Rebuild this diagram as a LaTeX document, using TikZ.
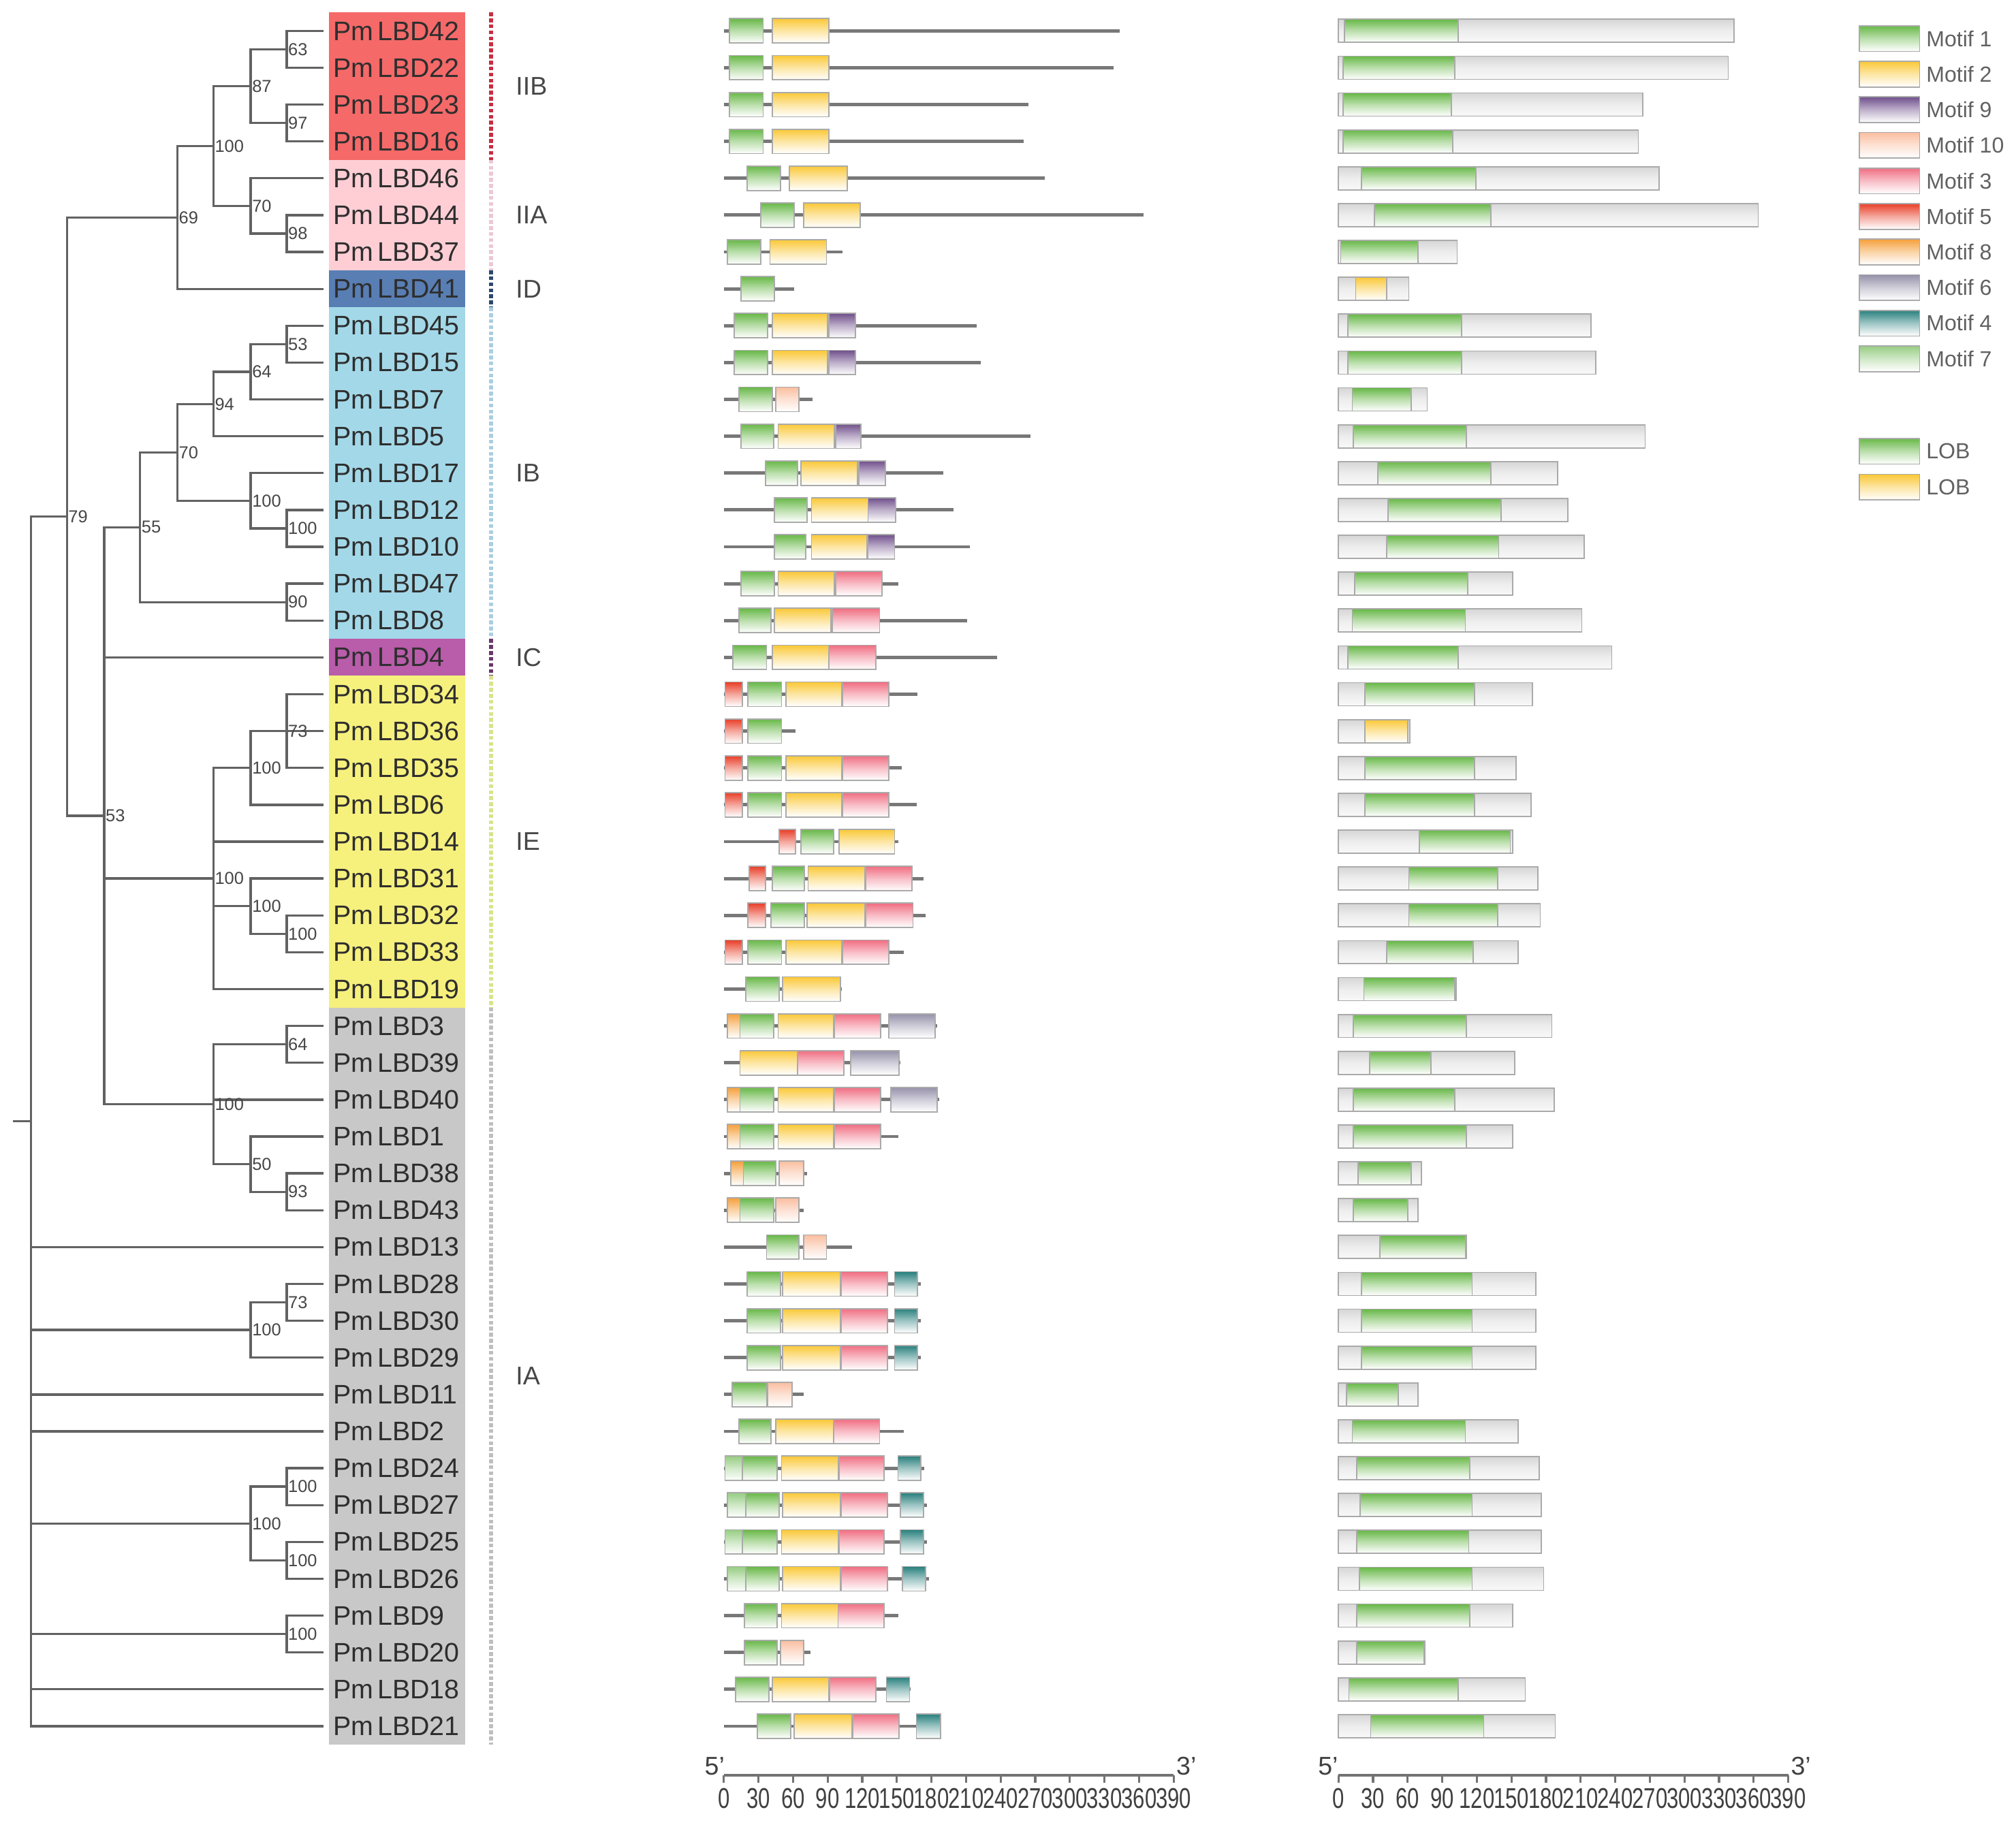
\documentclass[tikz,border=0pt]{standalone}
\usepackage{fontspec}
\setmainfont{Liberation Sans}
\newfontfamily\axisfont[FakeStretch=0.74]{Liberation Sans}

% tree and group colours
\definecolor{treegray}{RGB}{98,98,98}
\definecolor{bootgray}{RGB}{70,70,70}
\definecolor{bgIIB}{RGB}{245,105,105}
\definecolor{bgIIA}{RGB}{255,206,213}
\definecolor{bgID}{RGB}{88,126,180}
\definecolor{bgIB}{RGB}{163,216,232}
\definecolor{bgIC}{RGB}{185,92,170}
\definecolor{bgIE}{RGB}{246,240,125}
\definecolor{bgIA}{RGB}{200,200,200}
\definecolor{dlIIB}{RGB}{200,45,65}
\definecolor{dlIIA}{RGB}{236,200,210}
\definecolor{dlID}{RGB}{45,72,110}
\definecolor{dlIB}{RGB}{170,205,225}
\definecolor{dlIC}{RGB}{105,55,105}
\definecolor{dlIE}{RGB}{215,228,140}
\definecolor{dlIA}{RGB}{190,190,190}
% motif colours
\definecolor{cG}{RGB}{104,184,72}
\definecolor{cY}{RGB}{250,200,55}
\definecolor{cP}{RGB}{112,80,140}
\definecolor{cE}{RGB}{250,190,160}
\definecolor{cK}{RGB}{240,110,130}
\definecolor{cR}{RGB}{232,62,40}
\definecolor{cO}{RGB}{245,160,60}
\definecolor{cV}{RGB}{150,145,170}
\definecolor{cT}{RGB}{40,128,125}
\definecolor{cL}{RGB}{150,205,130}
\definecolor{protgray}{RGB}{120,120,120}
\definecolor{boxgray}{RGB}{170,170,170}

\newcommand{\rowy}[1]{24+28.67*(#1)}

\tikzset{
  branch/.style={draw=treegray, line width=1.5pt, line cap=rect},
  boot/.style={anchor=west, inner sep=0.8pt, text=bootgray, font=\fontsize{11.5}{13}\selectfont},
  tiplabel/.style={anchor=west, inner sep=0pt, text=black!82, font=\fontsize{17.8}{21}\selectfont},
  grplabel/.style={anchor=west, inner sep=0pt, text=black!72, font=\fontsize{17}{19}\selectfont},
  grpdash/.style={line width=2.6pt, dash pattern=on 2.5pt off 1.5pt},
  protline/.style={draw=protgray, line width=2.2pt},
  motif/.style={draw=boxgray, line width=0.8pt, top color=#1, bottom color=white, middle color=#1!45},
  domainbar/.style={draw=boxgray, line width=0.8pt, top color=gray!32, bottom color=gray!5, middle color=gray!14},
  legtext/.style={anchor=west, inner sep=0pt, text=black!62, font=\fontsize{14.5}{17}\selectfont},
  axisline/.style={draw=black!55, line width=1.4pt},
  axistext/.style={inner sep=0pt, text=black!75, font=\axisfont\fontsize{19}{21}\selectfont},
  endtext/.style={inner sep=0pt, text=black!75, font=\fontsize{17}{19}\selectfont}
}

\begin{document}
\begin{tikzpicture}[x=0.03cm, y=-0.03cm]
\useasboundingbox (0,0) rectangle (1568,1421);

% group bands, dashed marks and group names
\foreach \g/\ra/\rb in {IIB/0/3,IIA/4/6,ID/7/7,IB/8/16,IC/17/17,IE/18/26,IA/27/46}{
  \fill[fill=bg\g] (256,{\rowy{\ra}-14.335}) rectangle (362,{\rowy{\rb}+14.335});
  \draw[grpdash, draw=dl\g] (382,{\rowy{\ra}-14.335}) -- (382,{\rowy{\rb}+14.335});
  \node[grplabel] (g\g) at (401,{\rowy{(\ra+\rb)/2}}) {\g};
}

% leaves
\foreach \n [count=\i from 0] in {42,22,23,16,46,44,37,41,45,15,7,5,17,12,10,47,8,4,34,36,35,6,14,31,32,33,19,3,39,40,1,38,43,13,28,30,29,11,2,24,27,25,26,9,20,18,21}{
  \coordinate (e\n) at (251,{\rowy{\i}});
  \node[tiplabel] (t\n) at (259,{\rowy{\i}}) {Pm\hspace{0.15em}LBD\n};
}

% inner nodes
\coordinate (n63) at (223,{\rowy{0.5}});
\coordinate (n97) at (223,{\rowy{2.5}});
\coordinate (n87) at (195,{\rowy{1.5}});
\coordinate (n98) at (223,{\rowy{5.5}});
\coordinate (n70a) at (195,{\rowy{4.75}});
\coordinate (n100a) at (166,{\rowy{3.125}});
\coordinate (n69) at (138,{\rowy{5.0625}});
\coordinate (n53a) at (223,{\rowy{8.5}});
\coordinate (n64a) at (195,{\rowy{9.25}});
\coordinate (n94) at (166,{\rowy{10.125}});
\coordinate (n100b) at (223,{\rowy{13.5}});
\coordinate (n100c) at (195,{\rowy{12.75}});
\coordinate (n70b) at (138,{\rowy{11.4375}});
\coordinate (n90) at (223,{\rowy{15.5}});
\coordinate (n55) at (109,{\rowy{13.46875}});
\coordinate (n73a) at (223,{\rowy{19}});
\coordinate (n100d) at (195,{\rowy{20}});
\coordinate (n100e) at (223,{\rowy{24.5}});
\coordinate (n100f) at (195,{\rowy{23.75}});
\coordinate (n100g) at (166,{\rowy{23}});
\coordinate (n64b) at (223,{\rowy{27.5}});
\coordinate (n93) at (223,{\rowy{31.5}});
\coordinate (n50) at (195,{\rowy{30.75}});
\coordinate (n100h) at (166,{\rowy{29.125}});
\coordinate (n53b) at (81,{\rowy{21.296875}});
\coordinate (n79) at (52,{\rowy{13.1796875}});
\coordinate (n73b) at (223,{\rowy{34.5}});
\coordinate (n100i) at (195,{\rowy{35.25}});
\coordinate (n100j) at (223,{\rowy{39.5}});
\coordinate (n100k) at (223,{\rowy{41.5}});
\coordinate (n100l) at (195,{\rowy{40.5}});
\coordinate (n100m) at (223,{\rowy{43.5}});
\coordinate (root) at (24,{\rowy{29.58984375}});
\coordinate (rootin) at (11,{\rowy{29.58984375}});

% branches
\foreach \p/\q in {n63/e42,n63/e22,n97/e23,n97/e16,n87/n63,n87/n97,n98/e44,n98/e37,n70a/e46,n70a/n98,
    n100a/n87,n100a/n70a,n69/n100a,n69/e41,n53a/e45,n53a/e15,n64a/n53a,n64a/e7,n94/n64a,n94/e5,
    n100b/e12,n100b/e10,n100c/e17,n100c/n100b,n70b/n94,n70b/n100c,n90/e47,n90/e8,n55/n70b,n55/n90,
    n73a/e34,n73a/e36,n73a/e35,n100d/n73a,n100d/e6,n100e/e32,n100e/e33,n100f/e31,n100f/n100e,
    n100g/n100d,n100g/e14,n100g/n100f,n100g/e19,n64b/e3,n64b/e39,n93/e38,n93/e43,n50/e1,n50/n93,
    n100h/n64b,n100h/e40,n100h/n50,n53b/n55,n53b/e4,n53b/n100g,n53b/n100h,n79/n69,n79/n53b,
    n73b/e28,n73b/e30,n100i/n73b,n100i/e29,n100j/e24,n100j/e27,n100k/e25,n100k/e26,
    n100l/n100j,n100l/n100k,n100m/e9,n100m/e20,
    root/n79,root/e13,root/n100i,root/e11,root/e2,root/n100l,root/n100m,root/e18,root/e21}
  \draw[branch] (\p) |- (\q);
\draw[branch] (rootin) -- (root);

% bootstrap values
\foreach \p/\v in {n63/63,n97/97,n87/87,n98/98,n70a/70,n100a/100,n69/69,n53a/53,n64a/64,n94/94,
    n100b/100,n100c/100,n70b/70,n90/90,n55/55,n73a/73,n100d/100,n100e/100,n100f/100,n100g/100,
    n64b/64,n93/93,n50/50,n100h/100,n53b/53,n79/79,n73b/73,n100i/100,n100j/100,n100k/100,
    n100l/100,n100m/100}
  \node[boot] (b\p) at (\p) {\v};

% motifs (middle) and LOB domain (right)
\foreach \rw/\len/\mots/\dc/\da/\db in {
  0/343/{G/5/34,Y/42/91}/G/5/104,
  1/338/{G/5/34,Y/42/91}/G/4/101,
  2/264/{G/5/34,Y/42/91}/G/4/98,
  3/260/{G/5/34,Y/42/91}/G/4/99,
  4/278/{G/20/49,Y/57/107}/G/20/119,
  5/364/{G/32/61,Y/69/118}/G/31/132,
  6/103/{G/3/32,Y/40/89}/G/2/69,
  7/61/{G/15/44}/Y/15/42,
  8/219/{G/9/38,Y/42/90,P/91/114}/G/8/107,
  9/223/{G/9/38,Y/42/90,P/91/114}/G/8/107,
  10/77/{G/13/42,E/45/65}/G/12/63,
  11/266/{G/15/43,Y/47/96,P/97/119}/G/13/111,
  12/190/{G/36/64,Y/67/116,P/117/140}/G/34/132,
  13/199/{G/44/72,Y/76/125,P/125/149}/G/43/141,
  14/213/{G/44/71,Y/76/124,P/125/148}/G/42/139,
  15/151/{G/15/44,Y/47/96,K/97/137}/G/14/112,
  16/211/{G/13/41,Y/44/93,K/94/135}/G/12/110,
  17/237/{G/8/37,Y/42/91,K/91/132}/G/8/104,
  18/168/{R/1/16,G/21/50,Y/54/102,K/103/143}/G/23/118,
  19/62/{R/1/16,G/21/50}/Y/23/60,
  20/154/{R/1/16,G/21/50,Y/54/102,K/103/143}/G/23/118,
  21/167/{R/1/16,G/21/50,Y/54/102,K/103/143}/G/23/118,
  22/151/{R/48/62,G/67/95,Y/100/148}/G/70/149,
  23/173/{R/22/36,G/42/70,Y/73/122,K/123/163}/G/61/138,
  24/175/{R/21/36,G/41/70,Y/72/122,K/123/164}/G/61/138,
  25/156/{R/1/16,G/21/50,Y/54/102,K/103/143}/G/42/117,
  26/102/{G/19/48,Y/51/101}/G/22/101,
  27/185/{O/3/14,G/14/43,Y/47/95,K/96/136,V/143/183}/G/13/111,
  28/153/{Y/14/64,K/64/104,V/110/152}/G/27/80,
  29/187/{O/3/14,G/14/43,Y/47/95,K/96/136,V/145/185}/G/13/101,
  30/151/{O/3/14,G/14/43,Y/47/95,K/96/136}/G/13/111,
  31/72/{O/6/17,G/17/45,E/48/69}/G/17/63,
  32/69/{O/3/14,G/14/43,E/45/65}/G/13/60,
  33/111/{G/37/65,E/69/89}/G/36/110,
  34/171/{G/20/49,Y/51/101,K/102/142,T/148/168}/G/20/116,
  35/171/{G/20/49,Y/51/101,K/102/142,T/148/168}/G/20/116,
  36/171/{G/20/49,Y/51/101,K/102/142,T/148/168}/G/20/116,
  37/69/{G/7/37,E/38/59}/G/7/52,
  38/156/{G/13/41,Y/45/95,K/95/135}/G/12/110,
  39/174/{L/1/16,G/16/46,Y/50/99,K/100/139,T/151/171}/G/16/114,
  40/176/{L/3/19,G/19/48,Y/51/101,K/102/142,T/153/173}/G/19/116,
  41/176/{L/1/16,G/16/46,Y/50/99,K/100/139,T/153/173}/G/16/113,
  42/178/{L/3/19,G/19/48,Y/51/101,K/102/142,T/155/175}/G/18/116,
  43/151/{G/18/46,Y/50/99,K/99/139}/G/16/114,
  44/75/{G/18/46,E/49/69}/G/16/74,
  45/162/{G/10/39,Y/42/91,K/92/132,T/141/161}/G/9/104,
  46/188/{G/29/58,Y/61/111,K/112/152,T/167/188}/G/28/126}{
  \pgfmathsetmacro\yy{\rowy{\rw}}
  \begin{scope}[shift={(563,0)}, xscale=0.897]
    \draw[protline] (0,\yy) -- (\len,\yy);
    \foreach \mc/\ma/\mb in \mots
      \draw[motif=c\mc] (\ma,\yy-9.5) rectangle (\mb,\yy+9.5);
  \end{scope}
  \begin{scope}[shift={(1041,0)}, xscale=0.897]
    \draw[domainbar] (0,\yy-9) rectangle (\len,\yy+9);
    \draw[motif=c\dc] (\da,\yy-9) rectangle (\db,\yy+9);
  \end{scope}
}

% axes
\begin{scope}[shift={(563,0)}, xscale=0.897]
  \draw[axisline] (0,1381) -- (390,1381);
  \foreach \t in {0,30,...,390}{
    \draw[axisline] (\t,1381) -- (\t,1387);
    \node[axistext] (mx\t) at (\t,1399) {\t};
  }
  \node[endtext] (m5) at (-8,1374) {5'};
  \node[endtext] (m3) at (401,1374) {3'};
\end{scope}
\begin{scope}[shift={(1041,0)}, xscale=0.897]
  \draw[axisline] (0,1381) -- (390,1381);
  \foreach \t in {0,30,...,390}{
    \draw[axisline] (\t,1381) -- (\t,1387);
    \node[axistext] (dx\t) at (\t,1399) {\t};
  }
  \node[endtext] (d5) at (-9,1374) {5'};
  \node[endtext] (d3) at (401,1374) {3'};
\end{scope}

% legend
\foreach \mc/\lab [count=\k from 0] in {G/1,Y/2,P/9,E/10,K/3,R/5,O/8,V/6,T/4,L/7}{
  \pgfmathsetmacro\ly{30+27.67*\k}
  \draw[motif=c\mc] (1446,\ly-10) rectangle (1493,\ly+10);
  \node[legtext] (lg\k) at (1498,\ly) {Motif \lab};
}
\draw[motif=cG] (1446,341) rectangle (1493,361);
\node[legtext] (lob1) at (1498,351) {LOB};
\draw[motif=cY] (1446,369) rectangle (1493,389);
\node[legtext] (lob2) at (1498,379) {LOB};
\end{tikzpicture}
\end{document}
